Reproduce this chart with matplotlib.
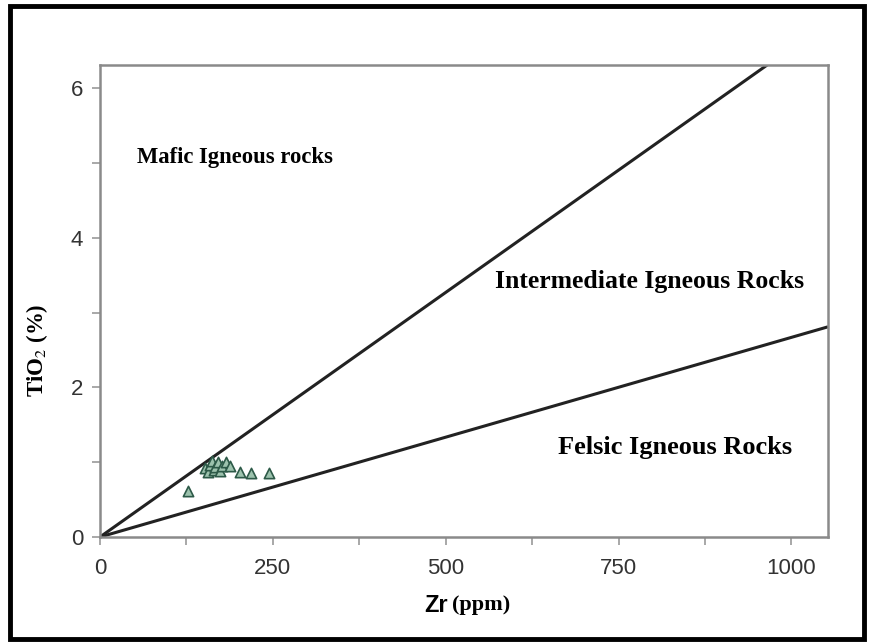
import matplotlib
matplotlib.use("Agg")
import matplotlib.pyplot as plt
from matplotlib.patches import Rectangle
from matplotlib.ticker import MultipleLocator

# Data
zr = [127, 152, 156, 159, 162, 165, 167, 171, 174, 177, 182, 188, 203, 218, 245]
tio2 = [0.61, 0.92, 0.87, 0.96, 1.02, 0.90, 0.93, 1.00, 0.88, 0.95, 1.00, 0.95, 0.87, 0.86, 0.86]

# Boundary lines (endpoints)
mafic_int_x = [0, 965]
mafic_int_y = [0, 6.31]
int_felsic_x = [0, 1053]
int_felsic_y = [0, 2.81]

x_ticks = [0, 250, 500, 750, 1000]
y_ticks = [0, 2, 4, 6]

fig = plt.figure(figsize=(8.69, 6.43), dpi=100)
fig.patch.set_facecolor("white")
fig.patches.append(Rectangle((10 / 869, 1 - 639 / 643), 854 / 869, 633 / 643,
                             transform=fig.transFigure, fill=False,
                             edgecolor="black", linewidth=3.5))

ax = fig.add_axes([100 / 869, 1 - 537 / 643, 728 / 869, 472 / 643])
ax.set_xlim(0, 1053)
ax.set_ylim(0, 6.31)

ax.plot(mafic_int_x, mafic_int_y, color="#222222", lw=2.2, solid_capstyle="butt")
ax.plot(int_felsic_x, int_felsic_y, color="#222222", lw=2.2, solid_capstyle="butt")

ax.scatter(zr, tio2, marker="^", s=55, facecolor="#9cc2ad", edgecolor="#2d5a48",
           linewidths=1.2, zorder=3)

for s in ax.spines.values():
    s.set_color("#8a8a8a")
    s.set_linewidth(1.8)

ax.set_xticks(x_ticks)
ax.set_yticks(y_ticks)
ax.xaxis.set_minor_locator(MultipleLocator(125))
ax.yaxis.set_minor_locator(MultipleLocator(1))
ax.tick_params(which="both", direction="out", color="#9a9a9a", width=1.2,
               labelsize=16, labelcolor="#333333", length=6)
ax.tick_params(axis="x", pad=9)
ax.tick_params(axis="y", pad=6)
for lab in ax.get_xticklabels() + ax.get_yticklabels():
    lab.set_family("Liberation Sans")

serif = "Liberation Serif"
ax.text(0.1855, 0.803, "Mafic Igneous rocks", transform=ax.transAxes,
        fontsize=16.3, fontweight="bold", family=serif, va="center", ha="center")
ax.text(0.7555, 0.542, "Intermediate Igneous Rocks", transform=ax.transAxes,
        fontsize=18.5, fontweight="bold", family=serif, va="center", ha="center")
ax.text(0.7898, 0.19, "Felsic Igneous Rocks", transform=ax.transAxes,
        fontsize=19, fontweight="bold", family=serif, va="center", ha="center")

# y label
fig.text(37 / 869, 1 - 350 / 643, "TiO$_2$ (%)", rotation=90, fontsize=16.5,
         fontweight="bold", family=serif, va="center", ha="center",
         math_fontfamily="stix")
# x label: "Zr" sans + "(ppm)" serif
fig.text(448 / 869, 1 - 605 / 643, "Zr", fontsize=17, fontweight="bold",
         family="Liberation Sans", va="center", ha="right")
fig.text(452 / 869, 1 - 605 / 643, "(ppm)", fontsize=16, fontweight="bold",
         family=serif, va="center", ha="left")

fig.savefig("out.png", dpi=100, facecolor="white")
